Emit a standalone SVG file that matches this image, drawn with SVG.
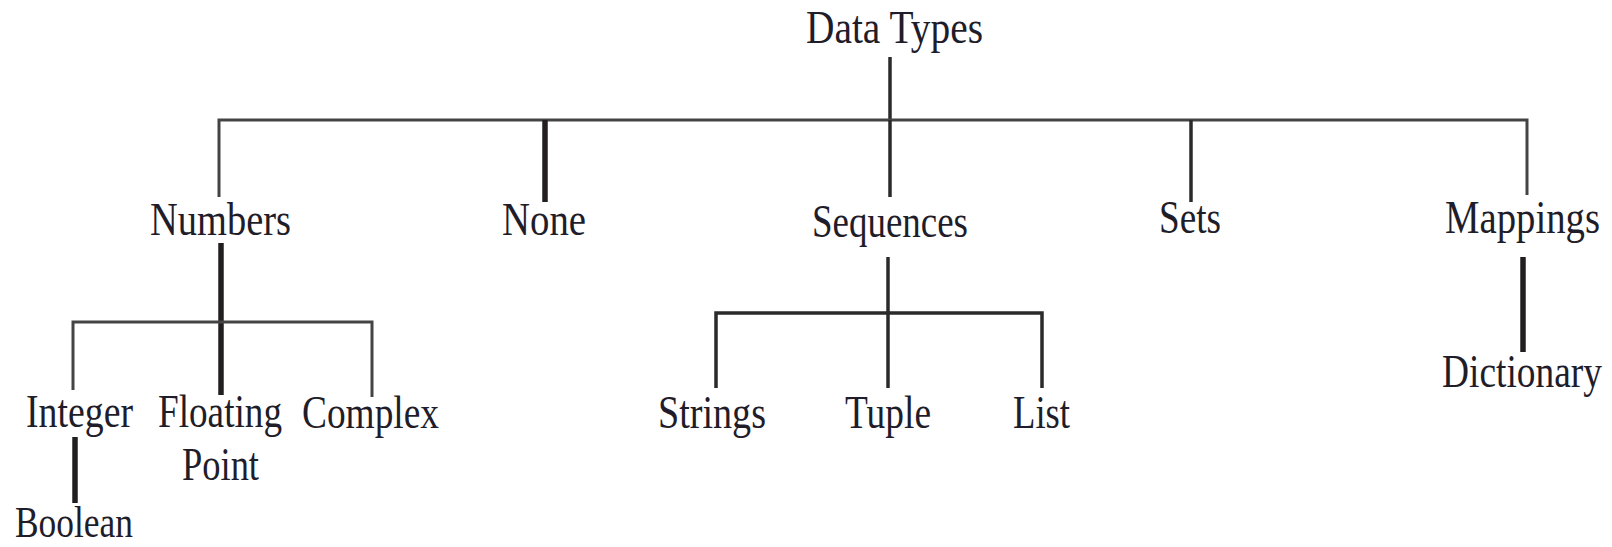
<svg xmlns="http://www.w3.org/2000/svg" width="1612" height="547" viewBox="0 0 1612 547">
<style>
.lbl{font-family:"Liberation Serif","Times New Roman",serif;font-size:46px;fill:#1f1d2a}
.sm{font-size:39px}
.ln{stroke:#2a2a2a;fill:none;stroke-width:3.5;stroke-linecap:butt;stroke-linejoin:miter}
.thin{stroke:#444;stroke-width:3}
.thick{stroke:#231f20;stroke-width:5.5}
</style>
<rect width="1612" height="547" fill="#ffffff"/>
<g id="connectors">
<line class="ln" x1="890" y1="57" x2="890" y2="121"/>
<polyline class="ln thin" points="219,197 219,120 1527,120 1527,195"/>
<line class="ln thick" x1="545" y1="120" x2="545" y2="202"/>
<line class="ln" x1="890" y1="120" x2="890" y2="197"/>
<line class="ln" x1="1191" y1="120" x2="1191" y2="202"/>
<line class="ln thick" x1="221" y1="243" x2="221" y2="395"/>
<polyline class="ln thin" points="73,390 73,322 372,322 372,397"/>
<line class="ln thick" x1="75" y1="437" x2="75" y2="503"/>
<line class="ln" x1="888" y1="257" x2="888" y2="388"/>
<polyline class="ln" points="716,388 716,313 1042,313 1042,388"/>
<line class="ln thick" x1="1523" y1="257" x2="1523" y2="352"/>
</g>
<g id="n-datatypes"><text class="lbl" x="806" y="43" textLength="177" lengthAdjust="spacingAndGlyphs">Data Types</text></g>
<g id="n-numbers"><text class="lbl" x="150" y="235" textLength="141" lengthAdjust="spacingAndGlyphs">Numbers</text></g>
<g id="n-none"><text class="lbl" x="502" y="235" textLength="84" lengthAdjust="spacingAndGlyphs">None</text></g>
<g id="n-sequences"><text class="lbl" x="812" y="237" textLength="156" lengthAdjust="spacingAndGlyphs">Sequences</text></g>
<g id="n-sets"><text class="lbl" x="1159" y="233" textLength="62" lengthAdjust="spacingAndGlyphs">Sets</text></g>
<g id="n-mappings"><text class="lbl sm" transform="translate(1445,233) scale(1,1.18)" x="0" y="0" textLength="155" lengthAdjust="spacingAndGlyphs">Mappings</text></g>
<g id="n-dictionary"><text class="lbl sm" transform="translate(1442,387) scale(1,1.18)" x="0" y="0" textLength="160" lengthAdjust="spacingAndGlyphs">Dictionary</text></g>
<g id="n-integer"><text class="lbl" x="26" y="427" textLength="107" lengthAdjust="spacingAndGlyphs">Integer</text></g>
<g id="n-floating"><text class="lbl" x="158" y="427" textLength="124" lengthAdjust="spacingAndGlyphs">Floating</text><text class="lbl" x="182" y="480" textLength="77" lengthAdjust="spacingAndGlyphs">Point</text></g>
<g id="n-complex"><text class="lbl" x="302" y="428" textLength="137" lengthAdjust="spacingAndGlyphs">Complex</text></g>
<g id="n-boolean"><text class="lbl" style="font-size:44px" x="15" y="537" textLength="118" lengthAdjust="spacingAndGlyphs">Boolean</text></g>
<g id="n-strings"><text class="lbl" x="658" y="428" textLength="108" lengthAdjust="spacingAndGlyphs">Strings</text></g>
<g id="n-tuple"><text class="lbl" x="845" y="428" textLength="86" lengthAdjust="spacingAndGlyphs">Tuple</text></g>
<g id="n-list"><text class="lbl" x="1013" y="428" textLength="57" lengthAdjust="spacingAndGlyphs">List</text></g>
</svg>
